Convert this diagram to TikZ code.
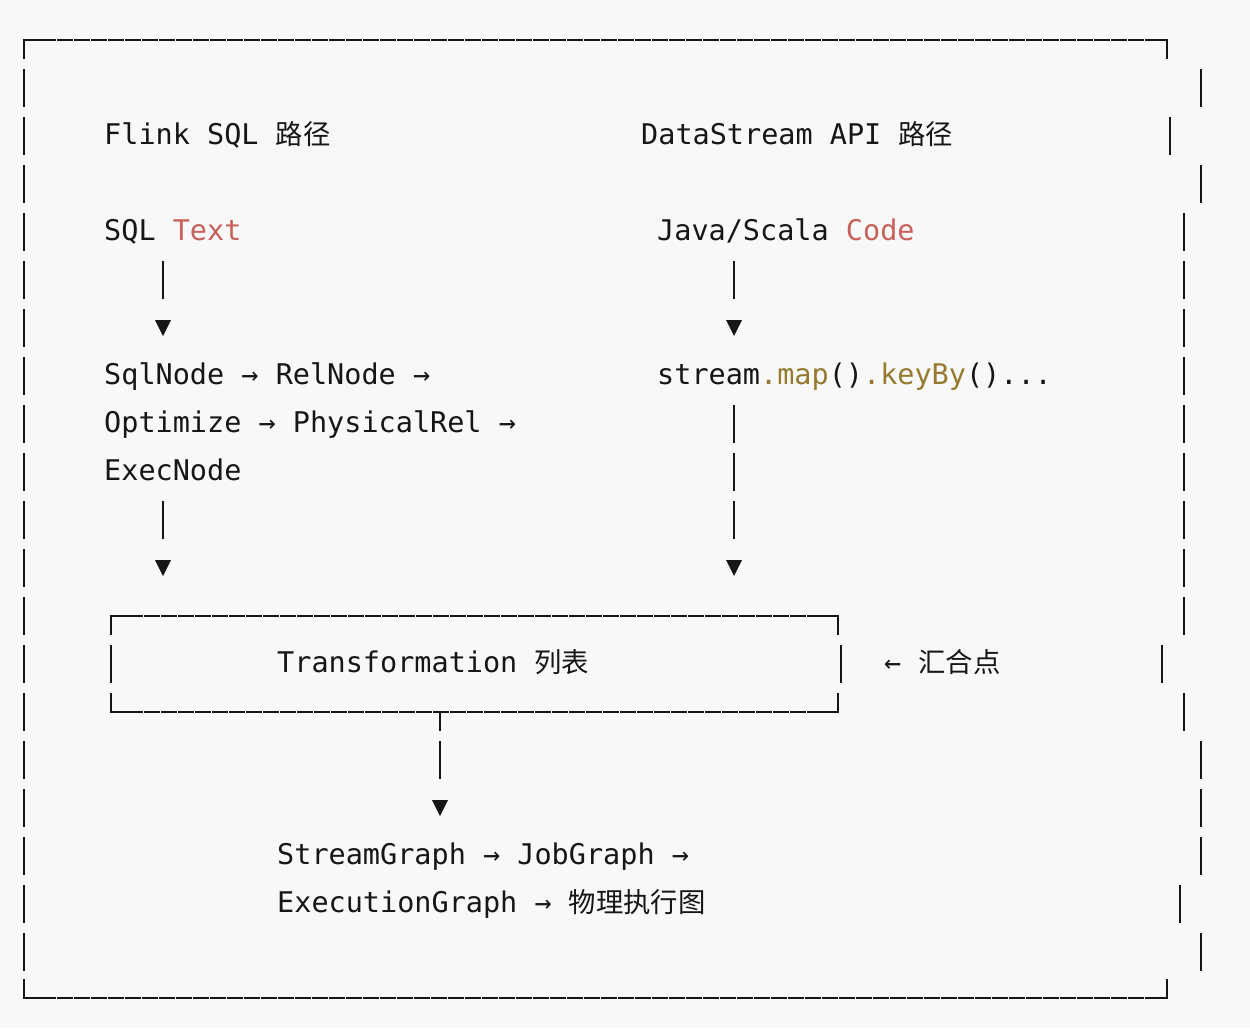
\documentclass[tikz,border=0pt]{standalone}
\usepackage{fontspec}
\setmainfont{DejaVu Sans Mono}
\newfontfamily\cjk{Noto Sans CJK SC}[Scale=0.96]
\definecolor{bg}{HTML}{F8F8F8}
\definecolor{ink}{HTML}{161616}
\definecolor{codered}{HTML}{C8605A}
\definecolor{olive}{HTML}{957A30}
\begin{document}
\begin{tikzpicture}[x=1pt,y=-1pt,
  txt/.style={anchor=base west, inner sep=0pt, font=\fontsize{28.5}{34}\selectfont, text=ink},
  bar/.style={draw=ink, line width=2pt},
  hline/.style={draw=ink, line width=2pt, dash pattern=on 16pt off 1pt},
  tri/.style={fill=ink}]
\useasboundingbox (0,0) rectangle (1250,1028);
\fill[bg] (0,0) rectangle (1250,1028);

% outer frame
\draw[bar] (24,59) |- (40,40);
\draw[hline] (40,40) -- (1151,40);
\draw[bar] (1151,40) -| (1167,59);
\draw[bar] (24,979) |- (40,998);
\draw[hline] (40,998) -- (1151,998);
\draw[bar] (1151,998) -| (1167,979);
\foreach \r in {86,134,...,950} \draw[bar] (24,\r-17) -- (24,\r+21);
\foreach \x/\r in {1201/86,1170/134,1201/182,1184/230,1184/278,1184/326,1184/374,1184/422,1184/470,1184/518,1184/566,1184/614,1162/662,1184/710,1201/758,1201/806,1201/854,1180/902,1201/950}
  \draw[bar] (\x,\r-17) -- (\x,\r+21);

% texts
\node[txt] (title1) at (104,144) {Flink SQL {\cjk 路径}};
\node[txt] (title2) at (641,144) {DataStream API {\cjk 路径}};
\node[txt] (sqltext) at (104,240) {SQL \textcolor{codered}{Text}};
\node[txt] (javacode) at (657,240) {Java/Scala \textcolor{codered}{Code}};
\node[txt] (sqlnode) at (104,384) {SqlNode → RelNode →};
\node[txt] (optimize) at (104,432) {Optimize → PhysicalRel →};
\node[txt] (execnode) at (104,480) {ExecNode};
\node[txt] (stream) at (657,384) {stream\textcolor{olive}{.map}()\textcolor{olive}{.keyBy}()...};
\node[txt] (trans) at (277,672) {Transformation {\cjk 列表}};
\node[txt] (merge) at (884,672) {← {\cjk 汇合点}};
\node[txt] (sgraph) at (277,864) {StreamGraph → JobGraph →};
\node[txt] (egraph) at (277,912) {ExecutionGraph → {\cjk 物理执行图}};

% inner box (Transformation list)
\draw[bar] (111,635) |- (127,616);
\draw[hline] (127,616) -- (822,616);
\draw[bar] (822,616) -| (838,635);
\draw[bar] (111,645) -- (111,683);
\draw[bar] (841,645) -- (841,683);
\draw[bar] (111,693) |- (127,712);
\draw[hline] (127,712) -- (822,712);
\draw[bar] (822,712) -| (838,693);

% connectors (ASCII style)
\draw[bar] (440,712) -- (440,731);
\foreach \x/\r in {163/278,163/518,734/278,734/422,734/470,734/518,440/758}
  \draw[bar] (\x,\r-17) -- (\x,\r+21);
\foreach \x/\r in {163/326,163/566,734/326,734/566,440/806}
  \fill[tri] (\x-8,\r-6) -- (\x+8,\r-6) -- (\x,\r+10) -- cycle;
\end{tikzpicture}
\end{document}
